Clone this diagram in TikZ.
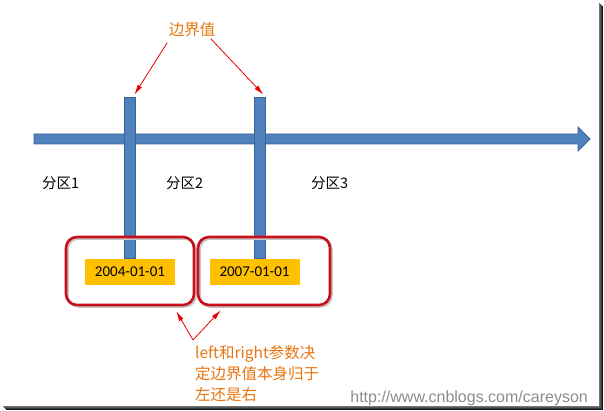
\documentclass[tikz,border=0pt]{standalone}
\usepackage{fontspec}
\setmainfont{Carlito}
\newfontfamily\cjk{Noto Sans CJK SC}
\newfontfamily\urlfont{Liberation Sans}
\usetikzlibrary{positioning,calc,arrows.meta}
\definecolor{barblue}{HTML}{4F81BD}
\definecolor{barline}{HTML}{3A6496}
\definecolor{boxred}{HTML}{C8101A}
\definecolor{datefill}{HTML}{FFC000}
\definecolor{noteorange}{HTML}{E8750F}
\tikzset{
  bar/.style={fill=barblue,draw=barline,line width=0.8pt,inner sep=0pt,minimum width=11pt,minimum height=161pt},
  datebox/.style={fill=datefill,inner sep=0pt,minimum width=90pt,minimum height=26pt,
    font=\fontsize{15}{18}\selectfont},
  groupbox/.style={draw=boxred,line width=2.6pt,rounded corners=11pt,minimum height=68pt},
  boxshadow/.style={draw=black!22,line width=2.6pt,rounded corners=11pt,minimum height=68pt},
  part/.style={font=\cjk\fontsize{14.5}{16}\selectfont,anchor=west,inner sep=0pt},
  note/.style={text=noteorange,font=\cjk\fontsize{15.5}{21}\selectfont},
  pointer/.style={-{Latex[length=10pt,width=5pt]},red!90!black,line width=0.8pt}
}

\begin{document}
\begin{tikzpicture}[x=1pt,y=-1pt]
  \useasboundingbox (0,0) rectangle (604,411);
  % page shadow
  \foreach \s/\c in {0/55,1/65,2/78,3/90}{
    \draw[black!\c!white,line width=1pt] (599.5+\s,3+\s) -- (599.5+\s,406.5+\s) -- (3+\s,406.5+\s);
  }

  % time line
  \coordinate (t0) at (34,139);
  \coordinate (t1) at (590,139);
  \fill[barblue,draw=barline,line width=0.8pt] (t0) ++(0,-5) -- ($(t1)+(-12,-5)$) -- ($(t1)+(-12,-12)$)
    -- (t1) -- ($(t1)+(-12,12)$) -- ($(t1)+(-12,5)$) -- ($(t0)+(0,5)$) -- cycle;

  \node [bar] (b1) at (129.5,177.5) {};
  \node [bar] (b2) at (259.5,177.5) {};

  \node [part] (p1) at (42,183) {分区1};
  \node [part] (p2) at (166,183) {分区2};
  \node [part] (p3) at (311,183) {分区3};

  \node [note] (edge) at (192,30) {边界值};
  \draw [pointer] ([xshift=2pt,yshift=-2pt]edge.south west) -- ([xshift=-1pt,yshift=2pt]b1.north east);
  \draw [pointer] ([xshift=-8pt,yshift=2pt]edge.south east) -- ([xshift=-2pt,yshift=2pt]b2.north east);

  \node [datebox] (d1) at (130,272) {2004-01-01};
  \node [datebox] (d2) at (254.5,272) {2007-01-01};
  \node [boxshadow,minimum width=128pt] at (131.5,272.5) {};
  \node [boxshadow,minimum width=132pt] at (265.5,272.5) {};
  \node [groupbox,minimum width=128pt] (g1) at (130,271) {};
  \node [groupbox,minimum width=132pt] (g2) at (264,271) {};

  \node [note,align=left,anchor=north west,inner sep=0pt] (why) at (195,345)
    {left和right参数决\\定边界值本身归于\\左还是右};
  \coordinate (v) at (193,340);
  \coordinate [below left=5pt and 19pt of g1.south east] (a1);
  \coordinate [below right=4pt and 24pt of g2.south west] (a2);
  \draw [pointer] (v) -- (a1);
  \draw [pointer] (v) -- (a2);

  \node [font=\urlfont\fontsize{16}{18}\selectfont,text=black!45,anchor=east,inner sep=0pt] (url) at (588,398)
    {http://www.cnblogs.com/careyson};
\end{tikzpicture}
\end{document}
